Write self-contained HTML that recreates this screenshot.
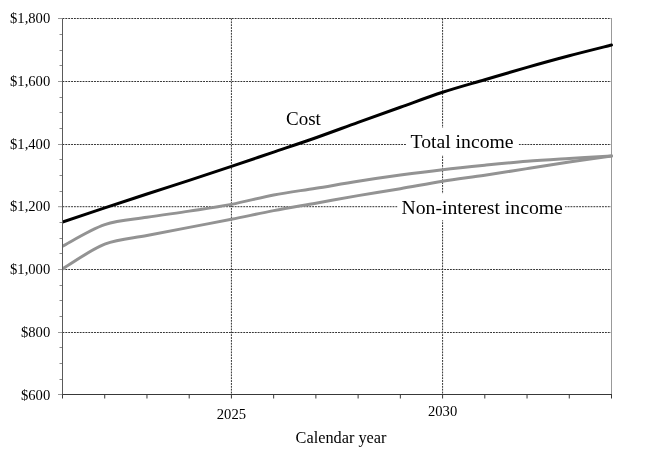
<!DOCTYPE html>
<html><head><meta charset="utf-8"><style>
html,body{margin:0;padding:0;background:#fff;}
body{width:648px;height:468px;overflow:hidden;}
svg{display:block;filter:grayscale(1);}
text{font-family:"Liberation Serif",serif;fill:#000;}
</style></head><body>
<svg width="648" height="468" viewBox="0 0 648 468">
<rect width="648" height="468" fill="#fff"/>
<defs><clipPath id="pc"><rect x="63" y="0" width="551" height="400"/></clipPath></defs>
<g stroke="#333" stroke-width="1" stroke-dasharray="1.87 1"><line x1="62.50" y1="332.50" x2="611.50" y2="332.50"/><line x1="62.50" y1="269.50" x2="611.50" y2="269.50"/><line x1="62.50" y1="206.70" x2="611.50" y2="206.70"/><line x1="62.50" y1="144.50" x2="611.50" y2="144.50"/><line x1="62.50" y1="81.50" x2="611.50" y2="81.50"/><line x1="62.50" y1="18.50" x2="611.50" y2="18.50"/><line x1="231.42" y1="18.50" x2="231.42" y2="394.50"/><line x1="442.58" y1="18.50" x2="442.58" y2="394.50"/></g>
<line x1="611.50" y1="18.50" x2="611.50" y2="394.50" stroke="#999" stroke-width="1"/>
<g stroke="#8a8a8a" stroke-width="1"><line x1="58.00" y1="394.50" x2="62.50" y2="394.50" stroke="#999"/><line x1="59.50" y1="379.50" x2="62.50" y2="379.50"/><line x1="59.50" y1="363.50" x2="62.50" y2="363.50"/><line x1="59.50" y1="347.50" x2="62.50" y2="347.50"/><line x1="58.00" y1="332.50" x2="62.50" y2="332.50" stroke="#999"/><line x1="59.50" y1="316.50" x2="62.50" y2="316.50"/><line x1="59.50" y1="300.50" x2="62.50" y2="300.50"/><line x1="59.50" y1="285.50" x2="62.50" y2="285.50"/><line x1="58.00" y1="269.50" x2="62.50" y2="269.50" stroke="#999"/><line x1="59.50" y1="253.50" x2="62.50" y2="253.50"/><line x1="59.50" y1="238.50" x2="62.50" y2="238.50"/><line x1="59.50" y1="222.50" x2="62.50" y2="222.50"/><line x1="58.00" y1="206.70" x2="62.50" y2="206.70" stroke="#999"/><line x1="59.50" y1="191.50" x2="62.50" y2="191.50"/><line x1="59.50" y1="175.50" x2="62.50" y2="175.50"/><line x1="59.50" y1="159.50" x2="62.50" y2="159.50"/><line x1="58.00" y1="144.50" x2="62.50" y2="144.50" stroke="#999"/><line x1="59.50" y1="128.50" x2="62.50" y2="128.50"/><line x1="59.50" y1="112.50" x2="62.50" y2="112.50"/><line x1="59.50" y1="97.50" x2="62.50" y2="97.50"/><line x1="58.00" y1="81.50" x2="62.50" y2="81.50" stroke="#999"/><line x1="59.50" y1="65.50" x2="62.50" y2="65.50"/><line x1="59.50" y1="50.50" x2="62.50" y2="50.50"/><line x1="59.50" y1="34.50" x2="62.50" y2="34.50"/><line x1="58.00" y1="18.50" x2="62.50" y2="18.50" stroke="#999"/><line x1="62.50" y1="394.50" x2="62.50" y2="398.50" stroke="#383838"/><line x1="104.73" y1="394.50" x2="104.73" y2="398.50" stroke="#383838"/><line x1="146.96" y1="394.50" x2="146.96" y2="398.50" stroke="#383838"/><line x1="189.19" y1="394.50" x2="189.19" y2="398.50" stroke="#383838"/><line x1="231.42" y1="394.50" x2="231.42" y2="398.50" stroke="#383838"/><line x1="273.65" y1="394.50" x2="273.65" y2="398.50" stroke="#383838"/><line x1="315.88" y1="394.50" x2="315.88" y2="398.50" stroke="#383838"/><line x1="358.12" y1="394.50" x2="358.12" y2="398.50" stroke="#383838"/><line x1="400.35" y1="394.50" x2="400.35" y2="398.50" stroke="#383838"/><line x1="442.58" y1="394.50" x2="442.58" y2="398.50" stroke="#383838"/><line x1="484.81" y1="394.50" x2="484.81" y2="398.50" stroke="#383838"/><line x1="527.04" y1="394.50" x2="527.04" y2="398.50" stroke="#383838"/><line x1="569.27" y1="394.50" x2="569.27" y2="398.50" stroke="#383838"/><line x1="611.50" y1="394.50" x2="611.50" y2="398.50" stroke="#383838"/></g>
<line x1="62.50" y1="18.50" x2="62.50" y2="395.00" stroke="#5a5a5a" stroke-width="1"/>
<line x1="62.50" y1="394.50" x2="612.00" y2="394.50" stroke="#383838" stroke-width="1"/>
<path d="M62.50,268.84 C69.54,264.73 90.65,249.75 104.73,244.21 C118.81,238.66 132.88,238.37 146.96,235.56 C161.04,232.75 175.12,230.05 189.19,227.35 C203.27,224.64 217.35,222.11 231.42,219.32 C245.50,216.54 259.58,213.33 273.65,210.64 C287.73,207.95 301.81,205.68 315.88,203.18 C329.96,200.68 344.04,198.04 358.12,195.63 C372.19,193.22 386.27,191.10 400.35,188.70 C414.42,186.31 428.50,183.52 442.58,181.28 C456.65,179.04 470.73,177.37 484.81,175.26 C498.88,173.15 512.96,170.82 527.04,168.62 C541.12,166.41 555.19,164.13 569.27,162.03 C583.35,159.93 604.46,157.02 611.50,156.02" fill="none" stroke="#939393" stroke-width="3" stroke-linejoin="round" stroke-linecap="round" clip-path="url(#pc)"/>
<path d="M62.50,246.21 C69.54,242.62 90.65,229.50 104.73,224.68 C118.81,219.87 132.88,219.57 146.96,217.32 C161.04,215.06 175.12,213.30 189.19,211.14 C203.27,208.99 217.35,207.07 231.42,204.37 C245.50,201.68 259.58,197.66 273.65,194.97 C287.73,192.29 301.81,190.55 315.88,188.27 C329.96,185.98 344.04,183.47 358.12,181.28 C372.19,179.08 386.27,177.04 400.35,175.10 C414.42,173.17 428.50,171.33 442.58,169.68 C456.65,168.04 470.73,166.63 484.81,165.23 C498.88,163.84 512.96,162.44 527.04,161.31 C541.12,160.19 555.19,159.38 569.27,158.49 C583.35,157.61 604.46,156.40 611.50,155.99" fill="none" stroke="#939393" stroke-width="3" stroke-linejoin="round" stroke-linecap="round" clip-path="url(#pc)"/>
<path d="M62.50,221.99 C69.54,219.64 90.65,212.54 104.73,207.88 C118.81,203.22 132.88,198.63 146.96,194.03 C161.04,189.44 175.12,184.92 189.19,180.31 C203.27,175.69 217.35,171.03 231.42,166.33 C245.50,161.63 259.58,156.86 273.65,152.10 C287.73,147.34 301.81,142.70 315.88,137.75 C329.96,132.80 344.04,127.47 358.12,122.39 C372.19,117.31 386.27,112.27 400.35,107.25 C414.42,102.23 428.50,96.87 442.58,92.27 C456.65,87.68 470.73,83.86 484.81,79.71 C498.88,75.55 512.96,71.35 527.04,67.36 C541.12,63.37 555.19,59.48 569.27,55.76 C583.35,52.05 604.46,46.83 611.50,45.05" fill="none" stroke="#000" stroke-width="3" stroke-linejoin="round" stroke-linecap="round" clip-path="url(#pc)"/>
<text x="286.0" y="125" font-size="19">Cost</text>
<rect x="406" y="128" width="112.5" height="27" fill="#fff"/>
<text x="410.5" y="147.5" font-size="19.7">Total income</text>
<rect x="397.6" y="193.3" width="167.4" height="27" fill="#fff"/>
<text x="401.5" y="214" font-size="19.7">Non-interest income</text>
<text x="50.2" y="399.90" font-size="14.6" text-anchor="end">$600</text>
<text x="50.2" y="336.60" font-size="14.6" text-anchor="end">$800</text>
<text x="50.2" y="273.60" font-size="14.6" text-anchor="end">$1,000</text>
<text x="50.2" y="210.80" font-size="14.6" text-anchor="end">$1,200</text>
<text x="50.2" y="148.60" font-size="14.6" text-anchor="end">$1,400</text>
<text x="50.2" y="85.60" font-size="14.6" text-anchor="end">$1,600</text>
<text x="50.2" y="22.60" font-size="14.6" text-anchor="end">$1,800</text>
<text x="231.42" y="419.00" font-size="14.6" text-anchor="middle">2025</text>
<text x="442.58" y="416.00" font-size="14.6" text-anchor="middle">2030</text>
<text x="341" y="443" font-size="16.3" text-anchor="middle">Calendar year</text>
</svg>
</body></html>
